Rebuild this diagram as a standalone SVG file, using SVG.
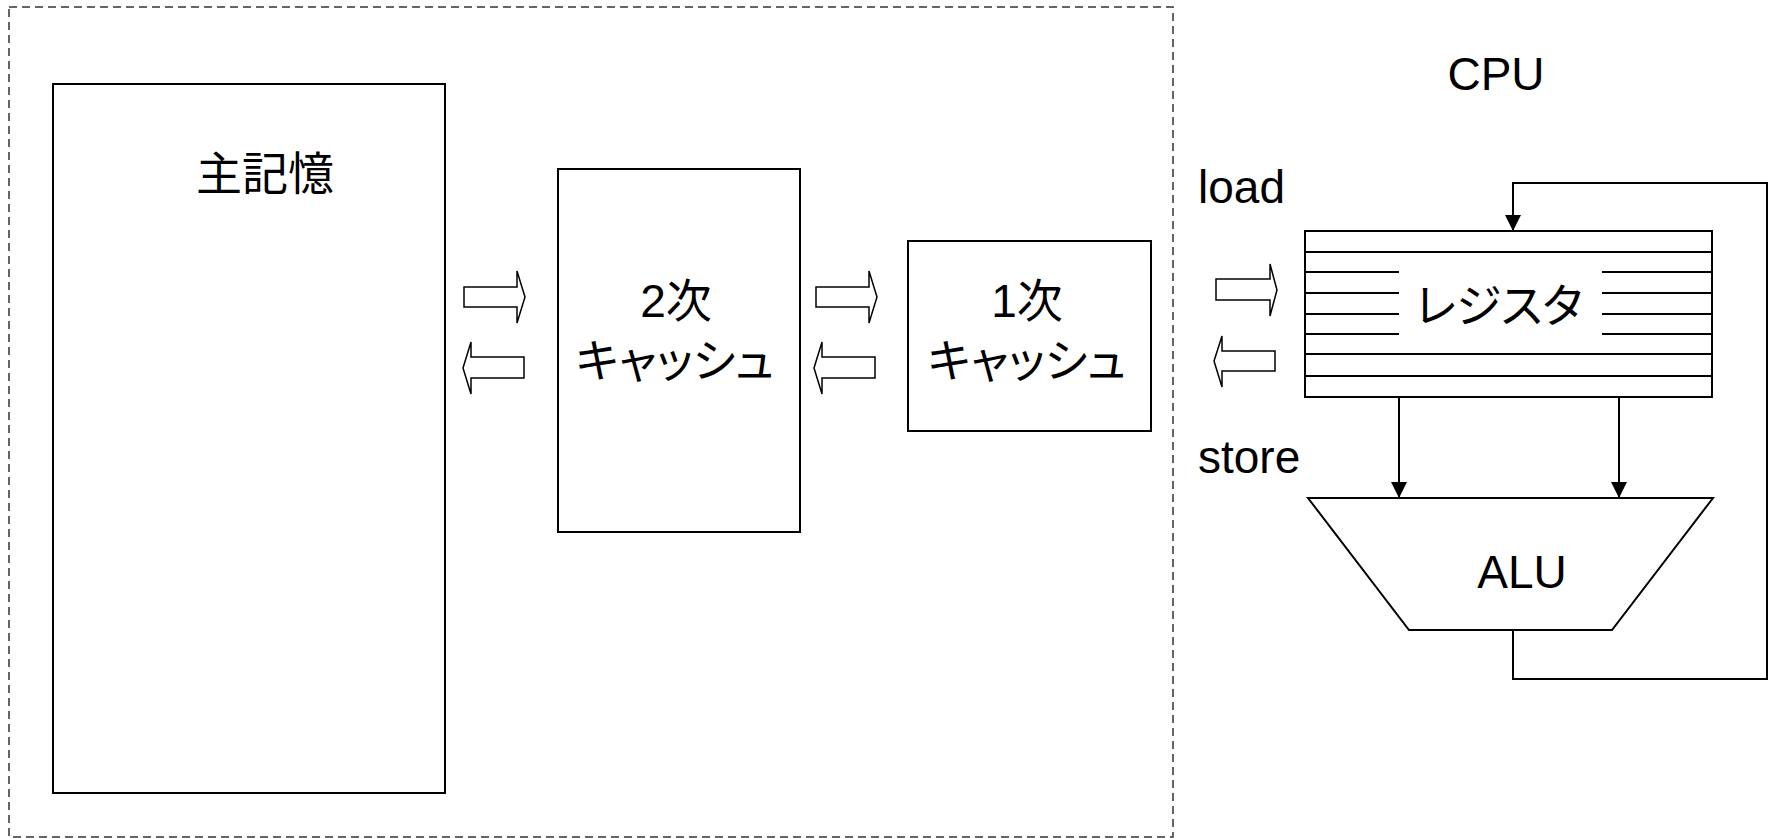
<svg xmlns="http://www.w3.org/2000/svg" width="1774" height="838" viewBox="0 0 1774 838">
<style>
.box{fill:#fff;stroke:#000;stroke-width:2}
.dash{fill:none;stroke:#333;stroke-width:1.5;stroke-dasharray:8 5}
.blk{fill:#fff;stroke:#000;stroke-width:1.5;stroke-linejoin:miter}
.reg{stroke:#000;stroke-width:2}
.wire{fill:none;stroke:#000;stroke-width:2}
.t{font-family:"Liberation Sans","Noto Sans CJK JP",sans-serif;font-size:46px;fill:#000;font-feature-settings:"palt"}
.m{text-anchor:middle}
</style>
<defs>
<marker id="ah" markerUnits="userSpaceOnUse" markerWidth="16" markerHeight="16" viewBox="0 0 15 15" refX="15" refY="7.5" orient="auto">
<path d="M0,0 L15,7.5 L0,15 z" fill="#000"/>
</marker>
</defs>
<rect width="1774" height="838" fill="#fff"/>
<rect id="boundary" class="dash" x="9" y="7" width="1164" height="830"/>
<g id="main-memory">
<rect class="box" x="53" y="84" width="392" height="709"/>
<text class="t m" x="265" y="190">主記憶</text>
</g>
<g id="l2-cache">
<rect class="box" x="558" y="169" width="242" height="363"/>
<text class="t m" x="676" y="317">2次</text>
<text class="t m" x="675" y="377">キャッシュ</text>
</g>
<g id="l1-cache">
<rect class="box" x="908" y="241" width="243" height="190"/>
<text class="t m" x="1027" y="317">1次</text>
<text class="t m" x="1027" y="377">キャッシュ</text>
</g>
<g id="cpu-label">
<text class="t m" x="1496" y="90">CPU</text>
</g>
<g id="load-label"><text class="t" x="1198" y="203">load</text></g>
<g id="store-label"><text class="t" x="1198" y="473">store</text></g>
<g id="register">
<rect class="box" x="1305" y="231" width="407" height="166"/>
<line class="reg" x1="1305" y1="252" x2="1712" y2="252"/>
<line class="reg" x1="1305" y1="272" x2="1399" y2="272"/>
<line class="reg" x1="1602" y1="272" x2="1712" y2="272"/>
<line class="reg" x1="1305" y1="293" x2="1399" y2="293"/>
<line class="reg" x1="1602" y1="293" x2="1712" y2="293"/>
<line class="reg" x1="1305" y1="314" x2="1399" y2="314"/>
<line class="reg" x1="1602" y1="314" x2="1712" y2="314"/>
<line class="reg" x1="1305" y1="334" x2="1399" y2="334"/>
<line class="reg" x1="1602" y1="334" x2="1712" y2="334"/>
<line class="reg" x1="1305" y1="354" x2="1712" y2="354"/>
<line class="reg" x1="1305" y1="376" x2="1712" y2="376" stroke-width="2.5"/>
<text class="t m" x="1499" y="322">レジスタ</text>
</g>
<g id="alu">
<polygon class="box" points="1308,498 1713,498 1612,630 1409,630"/>
<text class="t m" x="1522" y="588">ALU</text>
</g>
<g id="connectors">
<polygon class="blk" points="464,287 517,287 517,271 525,297 517,323 517,307 464,307"/>
<polygon class="blk" points="524,357 471,357 471,342 463,368 471,394 471,378 524,378"/>
<polygon class="blk" points="816,287 869,287 869,271 877,297 869,323 869,307 816,307"/>
<polygon class="blk" points="875,357 822,357 822,342 814,368 822,394 822,378 875,378"/>
<polygon class="blk" points="1216,279 1270,279 1270,264 1277,290 1270,316 1270,300 1216,300"/>
<polygon class="blk" points="1275,351 1222,351 1222,336 1214,361 1222,387 1222,371 1275,371"/>
<line class="wire" x1="1399" y1="397" x2="1399" y2="498" marker-end="url(#ah)"/>
<line class="wire" x1="1619" y1="397" x2="1619" y2="498" marker-end="url(#ah)"/>
<polyline class="wire" points="1513,630 1513,679 1767,679 1767,183 1513,183 1513,231" marker-end="url(#ah)"/>
</g>
</svg>
